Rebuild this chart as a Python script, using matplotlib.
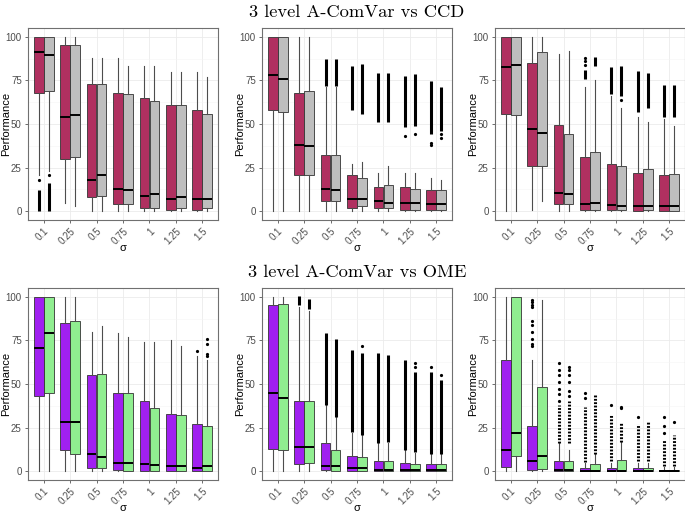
import matplotlib.pyplot as plt
from matplotlib.ticker import MultipleLocator

plt.rcParams['font.family'] = ['Liberation Sans', 'DejaVu Sans']

sigmas = ['0.1', '0.25', '0.5', '0.75', '1', '1.25', '1.5']

# box stats per sigma: whisker low, Q1, median, Q3, whisker high
ccd1_acv = [[21, 68, 91, 100, 100], [5, 30, 54, 95, 100], [0, 8, 18, 73, 88],
            [0, 4, 13, 68, 88], [0, 2, 9, 65, 83], [0, 1, 7, 61, 80], [0, 1, 7, 58, 80]]
ccd1_ref = [[23, 69, 89.5, 100, 100], [3, 31, 55, 95, 100], [0, 9, 21, 73, 88],
            [0, 4, 12, 67, 83], [0, 2, 10, 63, 83], [0, 2, 8, 61, 80], [0, 2, 7, 56, 77]]
ccd2_acv = [[0, 58, 78, 100, 100], [0, 21, 38, 68, 100], [0, 6, 13, 32, 71],
            [0, 2, 7, 21, 27], [0, 2, 6, 14, 22], [0, 1, 5, 14, 22], [0, 1, 4, 12, 19]]
ccd2_ref = [[0, 57, 76, 100, 100], [0, 21, 37.5, 69, 100], [0, 6, 12, 32, 71],
            [0, 3, 7, 19, 28], [0, 2, 5, 15, 26], [0, 1, 5, 13, 22], [0, 1, 4, 12, 18]]
ccd3_acv = [[0, 56, 82.5, 100, 100], [1, 26, 47, 85, 100], [0, 4, 10.5, 49.5, 90],
            [0, 1, 4, 31, 71], [0, 1, 3.5, 27, 66], [0, 0, 3, 22, 54], [0, 0, 3, 21, 53]]
ccd3_ref = [[0, 55, 84, 100, 100], [6, 26, 45, 91.5, 100], [0, 4, 10, 44.5, 92],
            [0, 1, 5, 34, 75], [0, 1, 3, 26, 59], [0, 1, 3, 24, 51], [0, 0, 3, 21.5, 49]]
ome1_acv = [[0, 43, 70.5, 100, 100], [0, 12, 28, 85, 100], [0, 2, 10, 55, 80],
            [0, 1, 5, 45, 79], [0, 0, 4, 40, 74], [0, 0, 3, 33, 75], [0, 0, 2, 27, 66]]
ome1_ref = [[0, 45, 79, 100, 100], [0, 10, 28, 86, 100], [0, 2, 8, 56, 83],
            [0, 0, 5, 45, 77], [0, 0, 3.5, 36, 74], [0, 0, 3, 32, 72], [0, 0, 3, 26, 64]]
ome2_acv = [[0, 13, 45, 95, 100], [0, 4, 14, 40, 94], [0, 1, 3, 16, 38],
            [0, 0, 2, 9, 22], [0, 0, 1, 6, 16], [0, 0, 1, 5, 12], [0, 0, 1, 4, 10]]
ome2_ref = [[0, 12, 42, 96, 100], [0, 5, 14, 40, 92], [0, 0, 3, 12, 31],
            [0, 0, 2, 8, 21], [0, 0, 1, 6, 16], [0, 0, 0.5, 4, 10.5], [0, 0, 0.5, 4, 10]]
ome3_acv = [[0, 2.5, 12, 63.5, 100], [0, 1, 6, 26, 64], [0, 0, 1, 6, 16],
            [0, 0, 0, 2, 5], [0, 0, 0, 2, 5], [0, 0, 0, 2, 5], [0, 0, 0, 1, 2.5]]
ome3_ref = [[0, 8.5, 22, 100, 100], [0, 1.5, 9, 48, 98], [0, 0, 1, 6, 12],
            [0, 0, 0, 4, 10], [0, 0, 0, 6.5, 17], [0, 0, 0, 2, 5], [0, 0, 0, 1, 2.5]]

# outliers: (sigma index, from, to); from == to is a single point
ccd1_acv_out = [(0, 0, 12), (0, 18, 18)]
ccd1_ref_out = [(0, 0, 16), (0, 21, 21)]
ccd2_acv_out = [(2, 71.5, 87.5), (3, 58, 83), (4, 51, 79), (5, 48, 77.5), (5, 43, 43),
                (6, 44, 74.5), (6, 38, 38), (6, 39, 39)]
ccd2_ref_out = [(2, 72, 87), (3, 56, 84.5), (4, 51, 79.5), (5, 49, 78.5), (5, 44, 44),
                (6, 46, 71), (6, 42, 42), (6, 44, 44)]
ccd3_acv_out = [(3, 76, 81), (3, 84, 84), (3, 86, 86), (3, 88, 88), (4, 67, 82.5),
                (5, 57, 80.5), (6, 54, 72.5)]
ccd3_ref_out = [(3, 83, 88.5), (4, 66, 83), (4, 64, 64), (5, 59, 79.5), (6, 54, 72.5)]
ome1_acv_out = [(6, 69, 69)]
ome1_ref_out = [(6, 66, 66), (6, 67, 67), (6, 73, 73), (6, 76, 76)]
ome2_acv_out = [(1, 95, 100.5), (2, 38, 79.5), (3, 22.5, 69.5), (4, 16, 68), (5, 12, 64),
                (6, 10, 57), (6, 60, 60)]
ome2_ref_out = [(1, 93, 98.5), (2, 31, 75.5), (3, 21, 67.5), (3, 72, 72), (4, 17, 66.5),
                (5, 11, 57), (5, 60, 60), (5, 62, 62), (6, 10, 52.5), (6, 55, 55)]
ome3_acv_out = [(1, 72, 72), (1, 73, 73), (1, 76, 76), (1, 80, 80), (1, 84, 84), (1, 86, 86),
                (1, 94, 94), (1, 95, 95), (1, 97, 97), (1, 98, 98),
                (2, 16, 38), (2, 40, 40), (2, 44, 44), (2, 47, 47), (2, 51, 51), (2, 55, 55),
                (2, 58, 58), (2, 62, 62), (3, 5.5, 37), (3, 42, 42), (3, 45, 45),
                (4, 6, 33), (4, 38, 38), (5, 6, 27), (5, 31, 31),
                (6, 3, 18), (6, 22, 22), (6, 26, 26), (6, 31, 31)]
ome3_ref_out = [(2, 16, 40), (2, 43, 43), (2, 46, 46), (2, 51, 51), (2, 55, 55), (2, 58, 58),
                (2, 60, 60), (3, 10, 44), (4, 17, 28), (4, 36, 36), (4, 37, 37),
                (5, 6, 28), (6, 3, 21), (6, 28, 28)]

titles = ['3 level A-ComVar vs CCD', '3 level A-ComVar vs OME']


def draw_panel(ax, left, right, left_out, right_out, colors, sparse=False):
    for stats, out, col, dx in [(left, left_out, colors[0], -0.19),
                                (right, right_out, colors[1], 0.19)]:
        pos = [j + 1 + dx for j in range(len(sigmas))]
        bx = [dict(whislo=s[0], q1=s[1], med=s[2], q3=s[3], whishi=s[4], fliers=[])
              for s in stats]
        ax.bxp(bx, positions=pos, widths=0.36, patch_artist=True, showcaps=False,
               showfliers=False,
               boxprops=dict(facecolor=col, edgecolor='#333333', linewidth=0.6),
               whiskerprops=dict(color='#4D4D4D', linewidth=0.8),
               medianprops=dict(color='black', linewidth=1.4))
        for j, lo, hi in out:
            if lo == hi:
                ax.plot(j + 1 + dx, lo, 'o', color='black', ms=2.3, mew=0)
            elif sparse:
                ax.vlines(j + 1 + dx, lo, hi, color='black', linewidth=2.2,
                          linestyles=(0, (0.6, 0.5)))
            else:
                ax.vlines(j + 1 + dx, lo, hi, color='black', linewidth=2.2)

    ax.set_xlim(0.4, 7.6)
    ax.set_ylim(-5, 105)
    ax.set_xticks(range(1, 8))
    ax.set_xticklabels(sigmas, rotation=45, ha='right', rotation_mode='anchor')
    ax.set_yticks([0, 25, 50, 75, 100])
    ax.yaxis.set_minor_locator(MultipleLocator(12.5))
    ax.set_axisbelow(True)
    ax.grid(which='major', color='#EBEBEB', linewidth=0.6)
    ax.grid(which='minor', axis='y', color='#F5F5F5', linewidth=0.4)
    ax.tick_params(which='major', length=2.5, width=0.5, color='#333333',
                   labelsize=7, labelcolor='#4D4D4D', pad=2)
    ax.tick_params(which='minor', length=0)
    for sp in ax.spines.values():
        sp.set_color('#707070')
        sp.set_linewidth(0.8)
    ax.set_ylabel('Performance', fontsize=8)
    ax.yaxis.set_label_coords(-0.09, 0.5)
    ax.set_xlabel('σ', fontsize=8)
    ax.xaxis.set_label_coords(0.5, -0.12)


fig = plt.figure(figsize=(6.85, 5.14), dpi=100)
lefts = [28 / 685, 262 / 685, 495 / 685]
w, h = 190 / 685, 192 / 514
bottoms = [1 - 220 / 514, 1 - 480 / 514]

rows = [
    [(ccd1_acv, ccd1_ref, ccd1_acv_out, ccd1_ref_out),
     (ccd2_acv, ccd2_ref, ccd2_acv_out, ccd2_ref_out),
     (ccd3_acv, ccd3_ref, ccd3_acv_out, ccd3_ref_out)],
    [(ome1_acv, ome1_ref, ome1_acv_out, ome1_ref_out),
     (ome2_acv, ome2_ref, ome2_acv_out, ome2_ref_out),
     (ome3_acv, ome3_ref, ome3_acv_out, ome3_ref_out)],
]
row_colors = [('#B03060', '#BEBEBE'), ('#A020F0', '#90EE90')]

for r, row in enumerate(rows):
    for c, (a, b, ao, bo) in enumerate(row):
        ax = fig.add_axes([lefts[c], bottoms[r], w, h])
        draw_panel(ax, a, b, ao, bo, row_colors[r], sparse=(r == 1 and c == 2))

fig.text(357 / 685, 1 - 17 / 514, titles[0], fontfamily='cmr10', fontsize=13.3,
         ha='center', va='baseline')
fig.text(357 / 685, 1 - 277 / 514, titles[1], fontfamily='cmr10', fontsize=13.3,
         ha='center', va='baseline')

fig.savefig('out.png', dpi=100)
